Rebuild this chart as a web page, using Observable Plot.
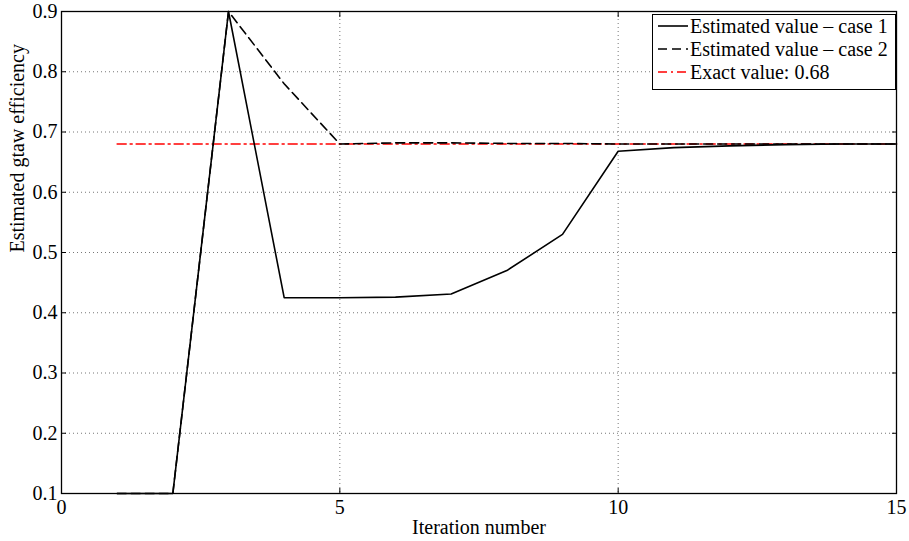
<!DOCTYPE html>
<html><head><meta charset="utf-8">
<script src="https://cdn.jsdelivr.net/npm/d3@7"></script>
<script src="https://cdn.jsdelivr.net/npm/@observablehq/plot@0.6"></script>
<style>
body{margin:0;background:#fff;}
#wrap{position:relative;width:909px;height:541px;font-family:"Times New Roman","Liberation Serif",Tinos,"DejaVu Serif",serif;}
#legend{position:absolute;left:652px;top:14px;width:242px;height:74px;border:1px solid #000;background:#fff;font-size:20px;}
.row{position:absolute;left:4px;height:24px;display:flex;align-items:center;white-space:nowrap;}
.row svg{margin-right:1px;}
svg text{font-family:"Times New Roman","Liberation Serif",Tinos,"DejaVu Serif",serif;}
</style></head>
<body><div id="wrap"><div id="legend"></div></div>
<script>
const iterations = [1,2,3,4,5,6,7,8,9,10,11,12,13,14,15];
const case1 = [0.1,0.1,0.9,0.425,0.425,0.426,0.431,0.47,0.53,0.668,0.674,0.677,0.679,0.68,0.68];
const case2 = [0.1,0.1,0.9,0.78,0.68,0.682,0.682,0.681,0.681,0.68,0.68,0.68,0.68,0.68,0.68];
const exactValue = 0.68;
const exactRange = [1,15];
const xTicks = [0,5,10,15];
const yTicks = [0.1,0.2,0.3,0.4,0.5,0.6,0.7,0.8,0.9];
const legendLabels = ["Estimated value – case 1","Estimated value – case 2","Exact value: 0.68"];

const d1 = iterations.map((x,i)=>({x, y: case1[i]}));
const d2 = iterations.map((x,i)=>({x, y: case2[i]}));
const dE = exactRange.map(x=>({x, y: exactValue}));

const FONT = '"Times New Roman","Liberation Serif",Tinos,"DejaVu Serif",serif';
const chart = Plot.plot({
  width: 909, height: 541,
  marginLeft: 61, marginTop: 11, marginRight: 13, marginBottom: 48,
  style: {fontFamily: FONT, fontSize: "20px", color: "#000", background: "#fff"},
  x: {domain: [0,15]},
  y: {domain: [0.1,0.9]},
  marks: [
    Plot.gridX(xTicks.slice(1,-1), {stroke: "#777", strokeOpacity: 1, strokeDasharray: "1,3"}),
    Plot.gridY(yTicks.slice(1,-1), {stroke: "#777", strokeOpacity: 1, strokeDasharray: "1,3"}),
    Plot.lineY(dE, {x: "x", y: "y", stroke: "red", strokeWidth: 1.6, strokeDasharray: "9,4,2,4"}),
    Plot.lineY(d2, {x: "x", y: "y", stroke: "#000", strokeWidth: 1.6, strokeDasharray: "9,5"}),
    Plot.lineY(d1, {x: "x", y: "y", stroke: "#000", strokeWidth: 1.6}),
    Plot.axisX(xTicks, {anchor: "bottom", tickSize: -5, tickPadding: 11, label: null, fontSize: 20, tickFormat: d3.format("d")}),
    Plot.axisX(xTicks, {anchor: "top", tickSize: -5, label: null, tickFormat: () => ""}),
    Plot.axisY(yTicks, {anchor: "left", tickSize: -5, tickPadding: 9, label: null, fontSize: 20, tickFormat: d3.format(".1f")}),
    Plot.axisY(yTicks, {anchor: "right", tickSize: -5, label: null, tickFormat: () => ""}),
    Plot.frame({stroke: "#000", strokeWidth: 1.3}),
    Plot.text(["Iteration number"], {frameAnchor: "bottom", dy: 40, fontSize: 20}),
    Plot.text(["Estimated gtaw efficiency"], {frameAnchor: "left", dx: -44, rotate: -90, fontSize: 20})
  ]
});
document.getElementById("wrap").prepend(chart);
chart.style.position = "absolute"; chart.style.left = "0"; chart.style.top = "0";

const legend = document.getElementById("legend");
const styles = [{dash: null, color: "#000"}, {dash: "9,5", color: "#000"}, {dash: "9,4,2,4", color: "red"}];
legendLabels.forEach((lab,i)=>{
  const row = document.createElement("div");
  row.className = "row";
  row.style.top = (-1 + i*23) + "px";
  const s = styles[i];
  row.innerHTML = `<svg width="32" height="10"><line x1="1" x2="31" y1="5" y2="5" stroke="${s.color}" stroke-width="1.6" ${s.dash ? `stroke-dasharray="${s.dash}"` : ""}/></svg><span>${lab}</span>`;
  legend.appendChild(row);
});
</script></body></html>
